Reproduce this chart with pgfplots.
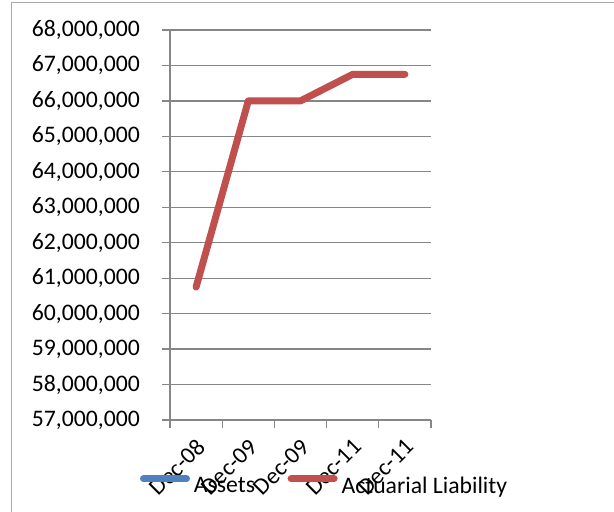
\documentclass[border=0pt]{standalone}
\usepackage{pgfplots}
\pgfplotsset{compat=1.18}
\usepackage{fontspec}
\setmainfont{Carlito}
\definecolor{exred}{HTML}{C0504D}
\definecolor{exblue}{HTML}{4F81BD}
\definecolor{axgray}{HTML}{868686}
\begin{document}
\begin{tikzpicture}[x=1pt,y=1pt]
\useasboundingbox (0,0) rectangle (614,512);
\draw[color=axgray!70, line width=1pt] (11,-20) rectangle (700,509);
\begin{axis}[
 at={(170pt,92pt)}, anchor=south west,
 scale only axis, width=261pt, height=390pt,
 xmin=0, xmax=5, ymin=57000000, ymax=68000000,
 xtick={0,1,2,3,4,5},
 x tick label as interval,
 xticklabels={Dec-08,Dec-09,Dec-09,Dec-11,Dec-11},
 ytick={57000000,58000000,59000000,60000000,61000000,62000000,63000000,64000000,65000000,66000000,67000000,68000000},
 scaled y ticks=false,
 /pgf/number format/.cd, fixed, precision=0, 1000 sep={,}, assume math mode=true, /pgfplots/.cd,
 axis lines*=left,
 axis line style={draw=axgray, line width=1.3pt},
 tick style={draw=axgray, line width=1.3pt},
 major tick length=8pt,
 tick align=outside,
 ymajorgrids, grid style={draw=axgray, line width=1.3pt},
 every tick label/.append style={font=\fontsize{23.7}{28}\selectfont},
 yticklabel style={anchor=east, inner sep=0pt, xshift=-22pt},
 xticklabel style={inner sep=0pt, xshift=5pt, yshift=-15pt, rotate=45, anchor=east},
 clip=false,
 legend style={at={(-0.115,-0.1667)}, anchor=west, draw=none, fill=none, inner sep=0pt, outer sep=0pt,
   font=\fontsize{23.7}{28}\selectfont, nodes={inner sep=0pt},
   /tikz/every odd column/.append style={column sep=4pt},
   /tikz/every even column/.append style={column sep=32.5pt}},
 legend columns=2,
 legend image code/.code={\draw[#1, line cap=round] (0pt,7pt) -- (43pt,7pt);},
]
\addlegendimage{exblue, line width=7pt}
\addlegendentry{Assets}
\addplot[exred, line width=7pt, line join=round, line cap=round] coordinates {(0.5,60750000) (1.5,66000000) (2.5,66000000) (3.5,66750000) (4.5,66750000)};
\addlegendentry{Actuarial Liability}
\end{axis}
\end{tikzpicture}
\end{document}
